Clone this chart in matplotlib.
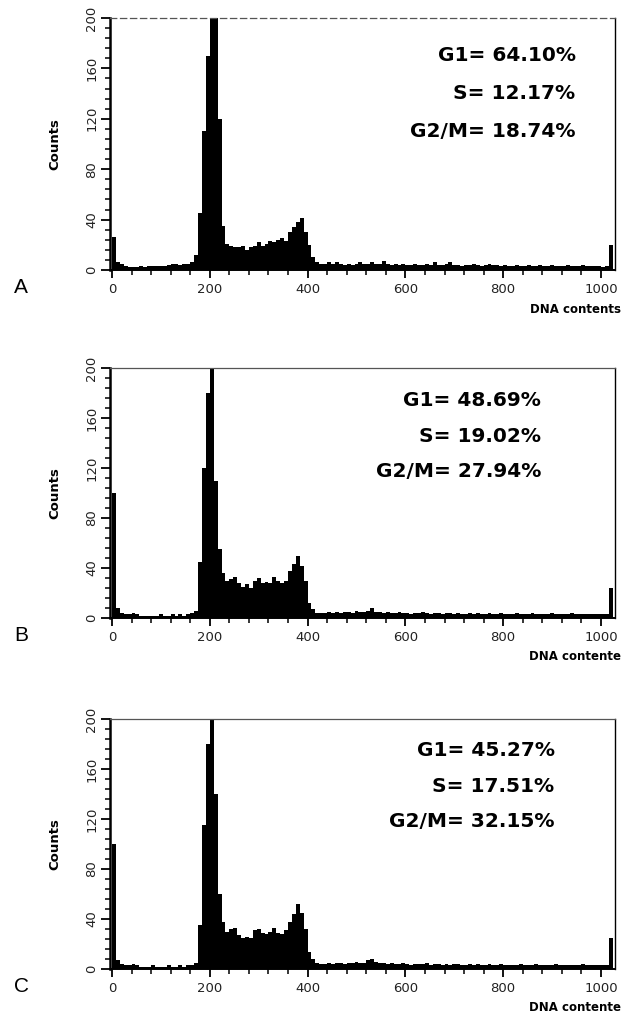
import numpy as np
import matplotlib
matplotlib.use("Agg")
import matplotlib.pyplot as plt
from matplotlib.ticker import MultipleLocator

BIN_W = 8  # channel width of one histogram bin

# counts per 8-channel bin, channel 0 .. 1024
counts_a = [
    26, 6, 5, 3, 2, 2, 2, 3, 2, 3, 3, 3, 3, 3, 4, 5,
    5, 4, 5, 5, 6, 12, 45, 110, 170, 215, 215, 120, 35, 21, 19, 18,
    18, 19, 16, 18, 19, 22, 19, 21, 23, 22, 24, 25, 23, 30, 34, 38,
    41, 30, 20, 10, 6, 5, 5, 6, 5, 6, 5, 4, 5, 4, 5, 6,
    5, 5, 6, 5, 5, 7, 5, 4, 5, 4, 5, 4, 4, 5, 4, 4,
    5, 4, 6, 4, 4, 5, 6, 4, 4, 3, 4, 4, 5, 4, 3, 4,
    5, 4, 4, 3, 4, 3, 3, 4, 3, 3, 4, 3, 3, 4, 3, 3,
    4, 3, 3, 3, 4, 3, 3, 3, 4, 3, 3, 3, 3, 2, 3, 20,
]
counts_b = [
    100, 8, 4, 3, 3, 4, 3, 2, 2, 2, 2, 2, 3, 2, 2, 3,
    2, 3, 2, 3, 4, 6, 45, 120, 180, 215, 110, 55, 36, 30, 31, 33,
    28, 25, 27, 24, 30, 32, 28, 29, 28, 33, 30, 28, 30, 38, 43, 50,
    42, 30, 12, 7, 4, 4, 4, 5, 4, 5, 4, 5, 5, 4, 6, 5,
    5, 6, 8, 5, 5, 4, 5, 4, 4, 5, 4, 4, 3, 4, 4, 5,
    4, 3, 4, 4, 3, 4, 4, 3, 4, 3, 3, 4, 3, 4, 3, 3,
    4, 3, 3, 4, 3, 3, 3, 4, 3, 3, 3, 4, 3, 3, 3, 3,
    4, 3, 3, 3, 3, 4, 3, 3, 3, 3, 3, 3, 3, 3, 3, 24,
]
counts_c = [
    100, 7, 4, 3, 3, 4, 3, 2, 2, 2, 3, 2, 2, 2, 3, 2,
    2, 3, 2, 3, 3, 5, 35, 115, 180, 215, 140, 60, 38, 30, 32, 33,
    27, 25, 26, 25, 31, 32, 29, 28, 30, 33, 29, 28, 31, 38, 44, 52,
    45, 32, 14, 8, 5, 4, 4, 5, 4, 5, 5, 4, 5, 5, 6, 5,
    5, 7, 8, 6, 5, 5, 4, 5, 4, 4, 5, 4, 3, 4, 4, 4,
    5, 3, 4, 4, 3, 4, 3, 4, 4, 3, 3, 4, 3, 4, 3, 3,
    4, 3, 3, 4, 3, 3, 3, 3, 4, 3, 3, 3, 4, 3, 3, 3,
    3, 4, 3, 3, 3, 3, 3, 3, 4, 3, 3, 3, 3, 3, 3, 25,
]

phase_names = ["G1", "S", "G2/M"]
phase_a = ["64.10%", "12.17%", "18.74%"]
phase_b = ["48.69%", "19.02%", "27.94%"]
phase_c = ["45.27%", "17.51%", "32.15%"]

panel_letters = ["A", "B", "C"]
xlabels = ["DNA contents", "DNA contente", "DNA contente"]

# layout (figure fractions) for the three stacked panels
AX_RECTS = [
    (0.176, 0.7340, 0.8075, 0.2483),
    (0.176, 0.3911, 0.8075, 0.2463),
    (0.176, 0.0453, 0.8075, 0.2463),
]
TEXT_X = [948, 878, 905]          # right edge of the % block, data units
TEXT_Y = [(170, 140, 110), (174, 145, 117), (175, 146, 118)]


def draw_panel(ax, counts, values, letter, xlabel, tx, tys, top_style):
    edges = np.arange(len(counts) + 1) * BIN_W
    ax.stairs(counts, edges, fill=True, color="black", linewidth=0)

    ax.set_xlim(-4, 1028)
    ax.set_ylim(0, 200)
    ax.set_xticks([0, 200, 400, 600, 800, 1000])
    ax.set_yticks([0, 40, 80, 120, 160, 200])
    ax.xaxis.set_minor_locator(MultipleLocator(40))
    ax.yaxis.set_minor_locator(MultipleLocator(8))

    ax.tick_params(axis="x", which="major", direction="out", length=5.5,
                   width=1.3, pad=4, labelsize=9.5, labelcolor="#222")
    ax.tick_params(axis="x", which="minor", direction="out", length=3.5, width=1.1)
    ax.tick_params(axis="y", which="major", direction="out", length=6.5,
                   width=1.3, pad=2, labelsize=9.5, labelcolor="#222",
                   labelrotation=90)
    ax.tick_params(axis="y", which="minor", direction="out", length=3.5, width=1.1)
    for lbl in ax.get_yticklabels():
        lbl.set_va("center")

    ax.spines["left"].set_linewidth(1.8)
    ax.spines["bottom"].set_linewidth(1.4)
    ax.spines["right"].set_linewidth(1.0)
    ax.spines["top"].set_linewidth(0.9)
    ax.spines["top"].set_color("#555")
    ax.spines["top"].set_linestyle(top_style)

    ax.set_ylabel("Counts", fontsize=9.5, fontweight="bold")
    ax.yaxis.set_label_coords(-0.097, 0.5)

    ax.text(1.012, -0.155, xlabel, transform=ax.transAxes, ha="right",
            va="center", fontsize=8.5, fontweight="bold")

    for name, val, y in zip(phase_names, values, tys):
        ax.text(tx, y, f"{name}= {val}", ha="right", va="center",
                fontsize=14.5, fontweight="bold")

    ax.text(-0.19, -0.07, letter, transform=ax.transAxes, ha="left",
            va="center", fontsize=15, family="Liberation Sans")


def main():
    fig = plt.figure(figsize=(6.25, 10.15), dpi=100)
    data = [counts_a, counts_b, counts_c]
    vals = [phase_a, phase_b, phase_c]
    tops = [(0, (5, 3)), "-", "-"]
    for i in range(3):
        ax = fig.add_axes(AX_RECTS[i])
        draw_panel(ax, data[i], vals[i], panel_letters[i], xlabels[i],
                   TEXT_X[i], TEXT_Y[i], tops[i])
    fig.savefig("out.png", dpi=100)
    plt.close(fig)


if __name__ == "__main__":
    main()
